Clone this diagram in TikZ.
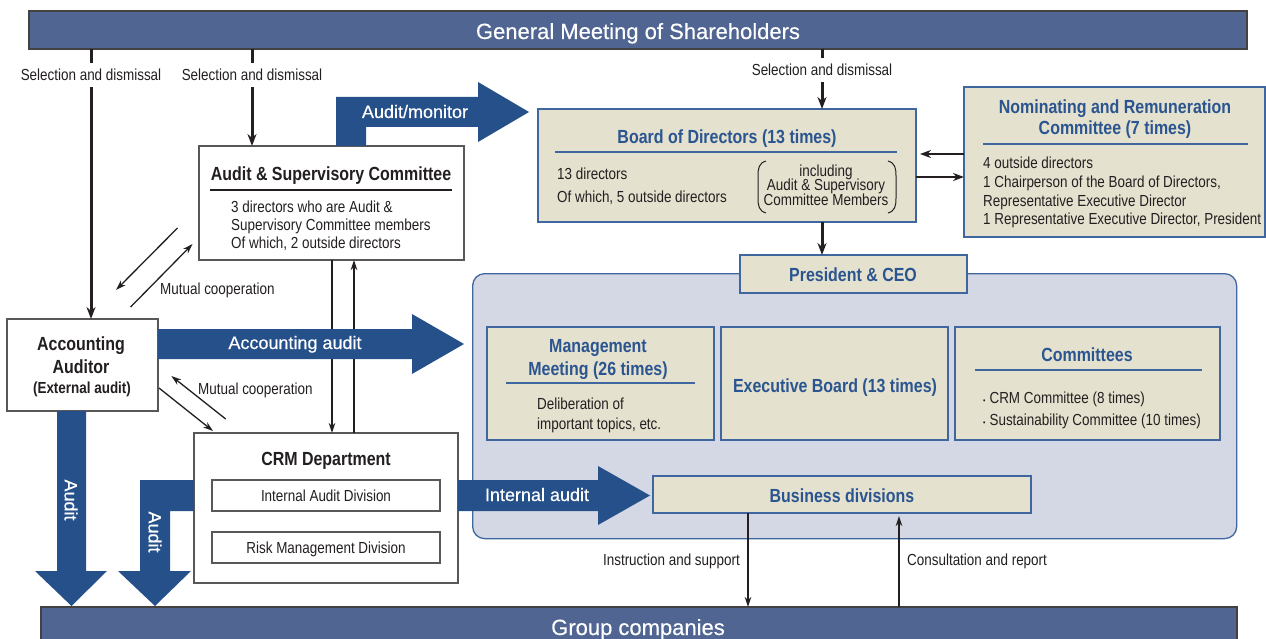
\documentclass[tikz,border=0pt]{standalone}
\usepackage{fontspec}
\setmainfont{Liberation Sans}
\newfontfamily\cond{Liberation Sans}[FakeStretch=0.84]
\newfontfamily\wfont{Liberation Sans}[FakeBold=0.35]
\usetikzlibrary{arrows.meta,calc}
\definecolor{barblue}{HTML}{506591}
\definecolor{fatblue}{HTML}{25508A}
\definecolor{beige}{HTML}{E5E1CF}
\definecolor{lav}{HTML}{D4D7E4}
\definecolor{tblue}{HTML}{2A5590}
\definecolor{bblue}{HTML}{4066A0}
\definecolor{ink}{HTML}{231F20}
\begin{document}
\begin{tikzpicture}[x=1pt,y=-1pt,
  bar/.style={draw=ink!85, line width=1.2pt, fill=barblue, anchor=north west, inner sep=0pt, outer sep=0pt},
  wbox/.style={draw=ink!75, line width=1.3pt, fill=white, anchor=north west, inner sep=0pt, outer sep=0pt},
  bbox/.style={draw=bblue, line width=1.5pt, fill=beige, anchor=north west, inner sep=0pt, outer sep=0pt},
  body/.style={font=\cond\fontsize{16}{18.6}\selectfont, text=ink, inner sep=0pt},
  boldsm/.style={font=\cond\bfseries\fontsize{16}{18.6}\selectfont, text=ink, inner sep=0pt},
  ttl/.style={font=\cond\bfseries\fontsize{19}{22}\selectfont, inner sep=0pt},
  btitle/.style={ttl, text=tblue, anchor=base},
  ktitle/.style={ttl, text=ink, anchor=base},
  wlab/.style={font=\wfont\fontsize{18}{20}\selectfont, text=white, inner sep=0pt},
  barlab/.style={font=\wfont\fontsize{22}{24}\selectfont, text=white, inner sep=0pt, anchor=base},
  sellab/.style={body, anchor=base, inner ysep=6pt},
  fat/.style={fill=fatblue, draw=none},
  heavy/.style={draw=ink, line width=3pt, -{Stealth[length=12pt,width=9pt]}},
  heavyline/.style={draw=ink, line width=3pt},
  mid/.style={draw=ink, line width=2pt, -{Stealth[length=11pt,width=8pt]}},
  thinarr/.style={draw=ink, line width=1.3pt, -{Stealth[length=10pt,width=6.5pt]}},
  rule/.style={line width=1.3pt},
]
\useasboundingbox (0,0) rectangle (1266,639);
\fill[white] (0,0) rectangle (1266,639);

% executive area
\node[draw=bblue, line width=1.3pt, fill=lav, rounded corners=12pt, minimum width=764pt, minimum height=265pt, anchor=north west, inner sep=0pt] (area) at (472,273) {};

% bars
\node[bar, minimum width=1218pt, minimum height=38pt] (gm) at (29,11) {};
\node[barlab] (gmt) at (638,39) {General Meeting of Shareholders};
\node[bar, minimum width=1196pt, minimum height=45pt] (gc) at (41,607) {};
\node[barlab] (gct) at (638,635) {Group companies};

% white boxes
\node[wbox, minimum width=265pt, minimum height=114pt] (asc) at (199,146) {};
\node[ktitle] (asct) at (331,181) {Audit \& Supervisory Committee};
\draw[ink, rule] (210,190) -- (452,190);
\node[body, anchor=base west] (asc1) at (231,212.5) {3 directors who are Audit \&};
\node[body, anchor=base west] (asc2) at (231,230.5) {Supervisory Committee members};
\node[body, anchor=base west] (asc3) at (231,248.5) {Of which, 2 outside directors};

\node[wbox, minimum width=151pt, minimum height=92pt] (aa) at (7,319) {};
\node[ktitle] (aat1) at (81,350) {Accounting};
\node[ktitle] (aat2) at (81,373) {Auditor};
\node[boldsm, anchor=base] (aat3) at (82,393) {(External audit)};

\node[wbox, minimum width=264pt, minimum height=150pt] (crm) at (194,433) {};
\node[ktitle] (crmt) at (326,465) {CRM Department};
\node[wbox, line width=1.1pt, minimum width=228pt, minimum height=31pt] (iad) at (212,480) {};
\node[body, anchor=base] (iadt) at (326,501) {Internal Audit Division};
\node[wbox, line width=1.1pt, minimum width=228pt, minimum height=31pt] (rmd) at (212,532) {};
\node[body, anchor=base] (rmdt) at (326,553) {Risk Management Division};

% beige boxes
\node[bbox, minimum width=378pt, minimum height=113pt] (bod) at (538,109) {};
\node[btitle] (bodt) at (727,144) {Board of Directors (13 times)};
\draw[bblue, rule] (555,152) -- (897,152);
\node[body, anchor=base west] (bod1) at (557,180) {13 directors};
\node[body, anchor=base west] (bod2) at (557,203) {Of which, 5 outside directors};
\node[body, anchor=base] (bodp1) at (826,176.5) {including};
\node[body, anchor=base] (bodp2) at (826,191) {Audit \& Supervisory};
\node[body, anchor=base] (bodp3) at (826,205.5) {Committee Members};
\draw[ink, line width=1pt] (766,161) .. controls (759,163) and (758,168) .. (758,176) -- (758,198) .. controls (758,206) and (759,211) .. (766,213);
\draw[ink, line width=1pt] (888,161) .. controls (895,163) and (896,168) .. (896,176) -- (896,198) .. controls (896,206) and (895,211) .. (888,213);

\node[bbox, minimum width=301pt, minimum height=150pt] (nrc) at (964,87) {};
\node[btitle] (nrct1) at (1115,114) {Nominating and Remuneration};
\node[btitle] (nrct2) at (1115,135) {Committee (7 times)};
\draw[bblue, rule] (983,144) -- (1248,144);
\node[body, anchor=base west] (nrc1) at (983,169) {4 outside directors};
\node[body, anchor=base west] (nrc2) at (983,187.7) {1 Chairperson of the Board of Directors,};
\node[body, anchor=base west] (nrc3) at (983,206.4) {Representative Executive Director};
\node[body, anchor=base west] (nrc4) at (983,225) {1 Representative Executive Director, President};

\node[bbox, minimum width=227pt, minimum height=38pt] (pres) at (740,255) {};
\node[btitle] (prest) at (853,281) {President \& CEO};

\node[bbox, minimum width=227pt, minimum height=113pt] (mm) at (487,327) {};
\node[btitle] (mmt1) at (598,352) {Management};
\node[btitle] (mmt2) at (598,375) {Meeting (26 times)};
\draw[bblue, rule] (506,383) -- (695,383);
\node[body, anchor=base west] (mm1) at (537,409) {Deliberation of};
\node[body, anchor=base west] (mm2) at (537,429) {important topics, etc.};

\node[bbox, minimum width=227pt, minimum height=113pt] (eb) at (721,327) {};
\node[btitle] (ebt) at (835,392) {Executive Board (13 times)};

\node[bbox, minimum width=265pt, minimum height=113pt] (com) at (955,327) {};
\node[btitle] (comt) at (1087,361) {Committees};
\draw[bblue, rule] (975,370) -- (1202,370);
\node[body, anchor=base west] (com1) at (983,403) {{\fontsize{8}{8}\selectfont\textbullet}\hspace{4pt}CRM Committee (8 times)};
\node[body, anchor=base west] (com2) at (983,425) {{\fontsize{8}{8}\selectfont\textbullet}\hspace{4pt}Sustainability Committee (10 times)};

\node[bbox, minimum width=378pt, minimum height=37pt] (bd) at (653,476) {};
\node[btitle] (bdt) at (842,502) {Business divisions};

% selection and dismissal
\node[sellab] (sel1) at (91,81) {Selection and dismissal};
\node[sellab] (sel2) at (252,81) {Selection and dismissal};
\node[sellab] (sel3) at (822,76) {Selection and dismissal};
\draw[heavyline] (sel1 |- gm.south) -- (sel1.north);
\draw[heavy] (sel1.south) -- (sel1 |- aa.north);
\draw[heavyline] (sel2 |- gm.south) -- (sel2.north);
\draw[heavy] (sel2.south) -- (sel2 |- asc.north);
\draw[heavyline] (sel3 |- gm.south) -- (sel3.north);
\draw[heavy] (sel3.south) -- (sel3 |- bod.north);
\draw[heavy] (sel3 |- bod.south) -- (sel3 |- pres.north);

% board <-> NRC
\coordinate (ya) at (0,154);
\coordinate (yb) at (0,177);
\draw[mid, shorten >=4pt] (nrc.west |- ya) -- (bod.east |- ya);
\draw[mid] (bod.east |- yb) -- (nrc.west |- yb);

% ASC <-> CRM
\coordinate (xa) at (332,0);
\coordinate (xb) at (354,0);
\draw[thinarr] (asc.south -| xa) -- (crm.north -| xa);
\draw[thinarr] (crm.north -| xb) -- (asc.south -| xb);

% mutual cooperation
\coordinate (m1s) at (177.5,228); \coordinate (m1e) at (116,290);
\coordinate (m2s) at (130.6,307); \coordinate (m2e) at (192.6,244);
\coordinate (m3s) at (225.7,419); \coordinate (m3e) at (171.4,376);
\coordinate (m4s) at (159,388); \coordinate (m4e) at (213,431);
\draw[thinarr] (m1s) -- (m1e);
\draw[thinarr] (m2s) -- (m2e);
\draw[thinarr] (m3s) -- (m3e);
\draw[thinarr] (m4s) -- (m4e);
\node[body, anchor=base west] (mc1) at (160,294) {Mutual cooperation};
\node[body, anchor=base west] (mc2) at (198,394) {Mutual cooperation};

% business divisions <-> group companies
\coordinate (xi) at (748,0);
\coordinate (xc) at (899,0);
\draw[thinarr] (bd.south -| xi) -- (gc.north -| xi);
\draw[thinarr, shorten >=3pt] (gc.north -| xc) -- (bd.south -| xc);
\node[body, anchor=base east] (inl) at (740,565) {Instruction and support};
\node[body, anchor=base west] (col) at (907,565) {Consultation and report};

% fat arrows
\fill[fat] (336,146) -- (336,97) -- (478,97) -- (478,82) -- (529,112) -- (478,142) -- (478,127) -- (366,127) -- (366,146) -- cycle;
\node[wlab, anchor=base] (amt) at (415,118) {Audit/monitor};
\fill[fat] (158,329) -- (412,329) -- (412,314) -- (464,344) -- (412,374) -- (412,359) -- (158,359) -- cycle;
\node[wlab, anchor=base] (aat) at (295,349) {Accounting audit};
\fill[fat] (458,480) -- (598,480) -- (598,466) -- (650,495.5) -- (598,525) -- (598,511) -- (458,511) -- cycle;
\node[wlab, anchor=base] (iat) at (537,501) {Internal audit};
\fill[fat] (57,411) -- (86,411) -- (86,571) -- (107,571) -- (71.5,606) -- (35,571) -- (57,571) -- cycle;
\node[wlab, rotate=-90] (au1) at (71,500) {Audit};
\fill[fat] (194,480) -- (140,480) -- (140,571) -- (118,571) -- (155,606) -- (191,571) -- (170,571) -- (170,511) -- (194,511) -- cycle;
\node[wlab, rotate=-90] (au2) at (155,532) {Audit};
\end{tikzpicture}
\end{document}
